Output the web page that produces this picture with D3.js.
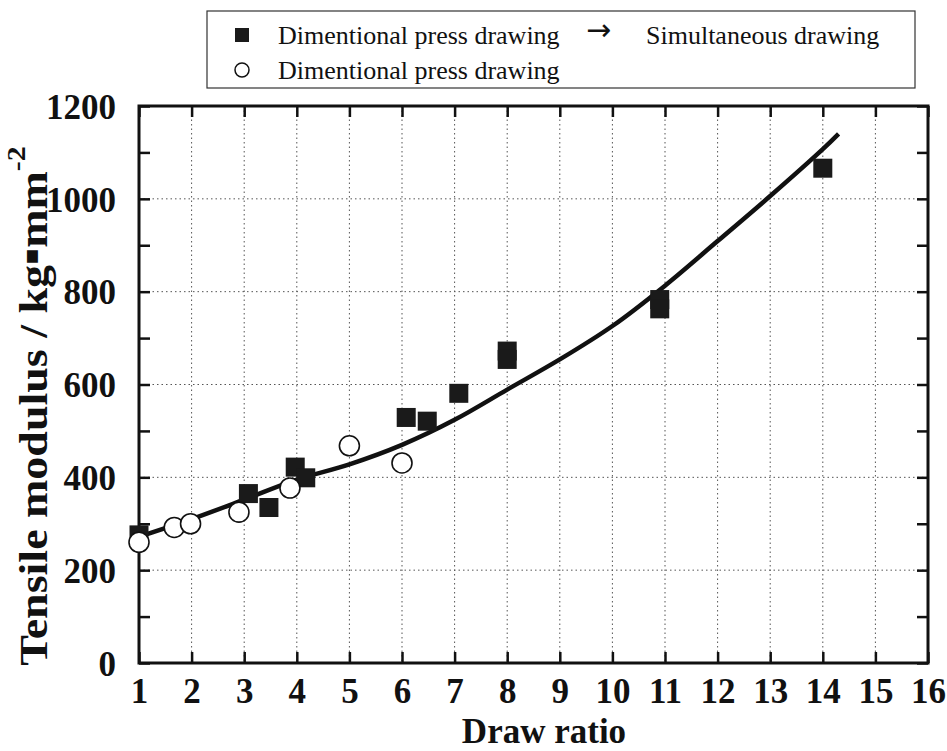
<!DOCTYPE html>
<html><head><meta charset="utf-8">
<script src="https://cdn.jsdelivr.net/npm/d3@7"></script>
<style>body{margin:0;background:#fff}svg{display:block}</style>
</head><body><svg id="c" width="947" height="751"></svg>
<script>
const xTicks = [1,2,3,4,5,6,7,8,9,10,11,12,13,14,15,16];
const yTicks = [0,200,400,600,800,1000,1200];
const yMinor = [100,300,500,700,900,1100];
const filledX = [1, 3.08, 3.47, 3.97, 4.17, 6.08, 6.48, 7.08, 8, 8, 10.9, 10.9, 14];
const filledY = [276, 365, 335, 422, 399, 529, 521, 581, 672, 654, 783, 763, 1066];
const openX = [1, 1.67, 1.98, 2.9, 3.87, 5, 6];
const openY = [260, 292, 300, 325, 377, 468, 431];
const curveX = [1,2,3,4,5,6,7,8,9,10,11,12,13,14,14.3];
const curveY = [272,310,352,395,428,470,524,589,654,726,813,909,1006,1107,1140];
const legendLabels = ["Dimentional press drawing", "Dimentional press drawing", "Simultaneous drawing"];
const xTitle = "Draw ratio";

const svg = d3.select("#c");
const L = 139, R = 928, T = 106, B = 663;
const x = d3.scaleLinear().domain([1,16]).range([L,R]);
const y = d3.scaleLinear().domain([0,1200]).range([B,T]);
const serif = "'Liberation Serif','Times New Roman',serif";

// grid
const grid = svg.append("g").attr("stroke","#555").attr("stroke-width",1).attr("stroke-dasharray","1.5,3");
grid.selectAll("line.gx").data(xTicks.slice(1,-1)).join("line")
  .attr("x1",d=>x(d)).attr("x2",d=>x(d)).attr("y1",T).attr("y2",B);
grid.selectAll("line.gy").data(yTicks.slice(1,-1)).join("line")
  .attr("x1",L).attr("x2",R).attr("y1",d=>y(d)).attr("y2",d=>y(d));

// axes with inward ticks
const tl = 11;
const axB = svg.append("g").attr("transform",`translate(0,${B})`)
  .call(d3.axisBottom(x).tickValues(xTicks).tickSize(-tl).tickPadding(tl+14).tickSizeOuter(0));
const axT = svg.append("g").attr("transform",`translate(0,${T})`)
  .call(d3.axisTop(x).tickValues(xTicks).tickSize(-tl).tickFormat("").tickSizeOuter(0));
const axL = svg.append("g").attr("transform",`translate(${L},0)`)
  .call(d3.axisLeft(y).tickValues(yTicks.concat(yMinor)).tickSize(-tl).tickPadding(tl+12).tickSizeOuter(0)
    .tickFormat(d=> yTicks.includes(d) ? d : ""));
const axR = svg.append("g").attr("transform",`translate(${R},0)`)
  .call(d3.axisRight(y).tickValues(yTicks.concat(yMinor)).tickSize(-tl).tickFormat("").tickSizeOuter(0));
[axB,axT,axL,axR].forEach(g=>{
  g.select(".domain").remove();
  g.selectAll(".tick line").attr("stroke","#111").attr("stroke-width",2.5);
  g.selectAll(".tick text").attr("fill","#111").attr("font-family",serif).attr("font-weight","bold").attr("font-size",35);
});
axB.selectAll(".tick text").attr("dy","0.71em").attr("transform","translate(0,-10)");
axL.selectAll(".tick text").attr("dy","0.35em");

// frame
svg.append("rect").attr("x",L).attr("y",T).attr("width",R-L).attr("height",B-T)
  .attr("fill","none").attr("stroke","#111").attr("stroke-width",3);

// curve
const pts = curveX.map((v,i)=>[v,curveY[i]]);
svg.append("path").datum(pts)
  .attr("d", d3.line().x(d=>x(d[0])).y(d=>y(d[1])).curve(d3.curveCatmullRom))
  .attr("fill","none").attr("stroke","#111").attr("stroke-width",4.5).attr("stroke-linecap","butt");

// filled squares
const s = 19;
svg.append("g").selectAll("rect").data(filledX.map((v,i)=>[v,filledY[i]])).join("rect")
  .attr("x",d=>x(d[0])-s/2).attr("y",d=>y(d[1])-s/2).attr("width",s).attr("height",s).attr("fill","#1a1a1a");

// open circles
svg.append("g").selectAll("circle").data(openX.map((v,i)=>[v,openY[i]])).join("circle")
  .attr("cx",d=>x(d[0])).attr("cy",d=>y(d[1])).attr("r",10)
  .attr("fill","#fff").attr("stroke","#111").attr("stroke-width",1.6);

// axis titles
svg.append("text").attr("x",544).attr("y",743).attr("text-anchor","middle")
  .attr("font-family",serif).attr("font-weight","bold").attr("font-size",35).attr("fill","#111").text(xTitle);
const yt = svg.append("text").attr("transform","translate(47,406) rotate(-90) scale(1.15,1)").attr("text-anchor","middle")
  .attr("font-family",serif).attr("font-weight","bold").attr("font-size",40).attr("fill","#111");
yt.append("tspan").text("Tensile modulus / kg");
yt.append("tspan").attr("font-family","'DejaVu Sans'").attr("font-size",22).attr("dy",-9).text("▪");
yt.append("tspan").attr("dy",9).text("mm");
yt.append("tspan").attr("font-size",26).attr("dy",-22).text("-2");

// legend
svg.append("rect").attr("x",207).attr("y",11).attr("width",708).attr("height",77)
  .attr("fill","#fff").attr("stroke","#333").attr("stroke-width",1.2);
svg.append("rect").attr("x",235).attr("y",28).attr("width",14).attr("height",14).attr("fill","#1a1a1a");
svg.append("circle").attr("cx",242).attr("cy",70).attr("r",7).attr("fill","#fff").attr("stroke","#111").attr("stroke-width",1.5);
const lg = svg.append("g").attr("font-family",serif).attr("font-size",26).attr("fill","#111");
lg.append("text").attr("x",278).attr("y",44).text(legendLabels[0]);
lg.append("text").attr("x",278).attr("y",79).text(legendLabels[1]);
lg.append("text").attr("x",586).attr("y",40).attr("font-family","'DejaVu Sans'").attr("font-size",30).text("→");
lg.append("text").attr("x",646).attr("y",44).text(legendLabels[2]);
</script></body></html>
